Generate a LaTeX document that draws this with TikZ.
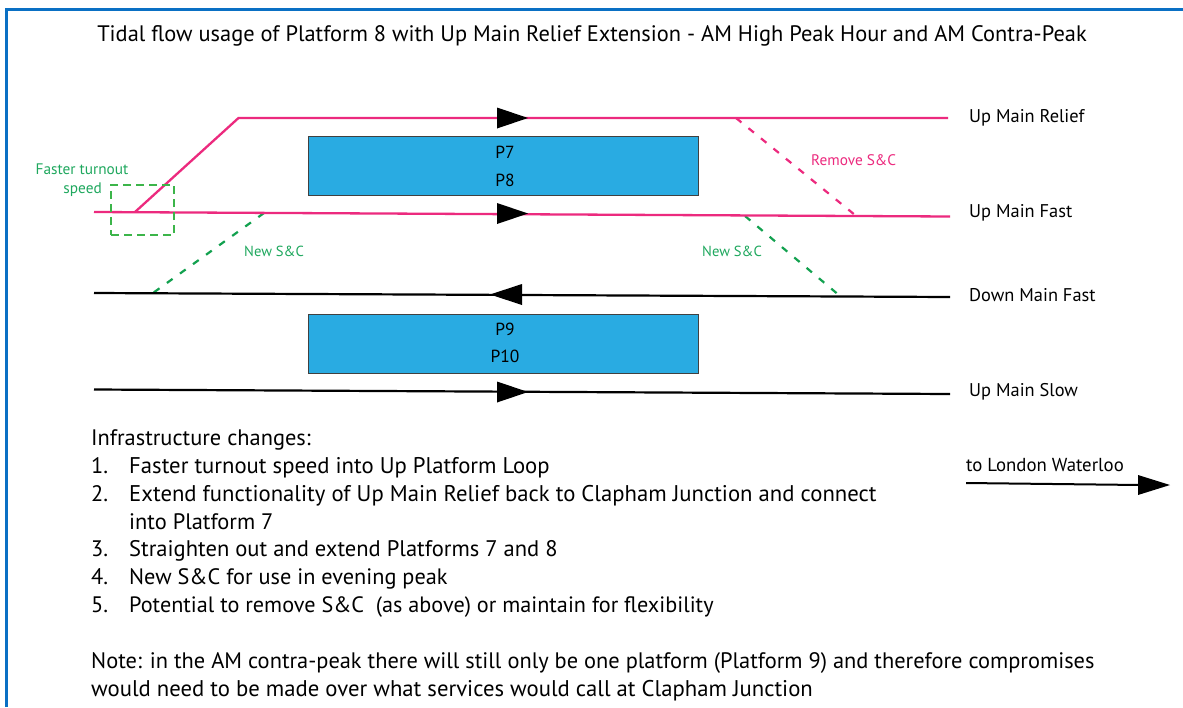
\documentclass[tikz,border=0pt]{standalone}
\usepackage{fontspec}
\setmainfont{PT Sans}
\definecolor{frame}{HTML}{0A70C4}
\definecolor{pinkl}{HTML}{EC2A7E}
\definecolor{greenl}{HTML}{12A14F}
\definecolor{greenb}{HTML}{3CB54A}
\definecolor{gtext}{HTML}{1FA85E}
\definecolor{boxb}{HTML}{29ABE2}
\newcommand{\fs}[1]{\fontsize{#1}{26}\selectfont}
\tikzset{
  txt/.style={anchor=base west,inner sep=0pt,font=\fs{22.4},text=black},
  lab/.style={anchor=base west,inner sep=0pt,font=\fontsize{18.4}{22}\selectfont,text=black},
  small/.style={inner sep=0pt,font=\fontsize{15.3}{18}\selectfont},
  plat/.style={draw=black!75,line width=1pt,fill=boxb,minimum width=390pt,minimum height=59pt,inner sep=0pt},
  pt/.style={inner sep=0pt,font=\fontsize{17.5}{20}\selectfont,text=black},
  pinktrack/.style={draw=pinkl,line width=2.3pt},
  blacktrack/.style={draw=black,line width=2.2pt},
  greendash/.style={draw=greenl,line width=2.2pt,dash pattern=on 7pt off 9.1pt},
  pinkdash/.style={draw=pinkl,line width=2.2pt,dash pattern=on 7pt off 9.1pt},
  head/.style={fill=black,draw=none}
}
\begin{document}
\begin{tikzpicture}[x=1pt,y=-1pt]
\useasboundingbox (0,0) rectangle (1183,707);
\fill[white] (0,0) rectangle (1183,707);
\draw[frame,line width=3pt] (6.5,707) -- (6.5,9.5) -- (1183,9.5);
% title
\node[anchor=base,inner sep=0pt,font=\fs{22.4},text=black] (title) at (592,41) {Tidal flow usage of Platform 8 with Up Main Relief Extension - AM High Peak Hour and AM Contra-Peak};
% platforms
\node[plat] (pa) at (503.5,165.5) {};
\node[plat] (pb) at (503.5,343.5) {};
\node[pt] (p7) at (505,152) {P7};
\node[pt] (p8) at (505,180) {P8};
\node[pt] (p9) at (505,329) {P9};
\node[pt] (p10) at (505,356) {P10};
% track coordinates
\coordinate (jn) at (135,212);
\coordinate (bend) at (238.5,118);
\coordinate (rE) at (948,118);
\coordinate (fW) at (94,212);
\coordinate (fE) at (950,216.5);
\coordinate (dW) at (94,293);
\coordinate (dE) at (950,297);
\coordinate (sW) at (94,389.5);
\coordinate (sE) at (950,394);
\coordinate (g1a) at (264,213);
\coordinate (g1b) at (153,293);
\coordinate (g2a) at (745,216);
\coordinate (g2b) at (840,296);
\coordinate (r1a) at (736,118);
\coordinate (r1b) at (855,215);
% dashed crossovers
\draw[greendash] (g1a) -- (g1b);
\draw[greendash] (g2a) -- (g2b);
\draw[pinkdash] (r1a) -- (r1b);
% tracks
\draw[pinktrack,line join=miter] (jn) -- (bend) -- (rE);
\draw[pinktrack] (fW) -- (fE);
\draw[blacktrack] (dW) -- (dE);
\draw[blacktrack] (sW) -- (sE);
% arrowheads
\fill[head] (497,107.5) -- (528,118) -- (497,128.5) -- cycle;
\fill[head] (497,203) -- (528,213.5) -- (497,224) -- cycle;
\fill[head] (522,284) -- (490,294.5) -- (522,305) -- cycle;
\fill[head] (497,381.5) -- (528,392) -- (497,402.5) -- cycle;
% green box
\node[draw=greenb,line width=2.2pt,dash pattern=on 8pt off 5pt,minimum width=63pt,minimum height=50pt,inner sep=0pt,outer sep=0pt] (gbox) at (142.5,210) {};
% small labels
\node[small,text=gtext,anchor=base,align=center] (ft1) at (82,174) {Faster turnout};
\node[small,text=gtext,anchor=base east] (ft2) at (102,193) {speed};
\node[small,font=\fontsize{14.6}{18}\selectfont,text=gtext,anchor=base west] (ns1) at (244,256) {New S\&C};
\node[small,font=\fontsize{14.6}{18}\selectfont,text=gtext,anchor=base west] (ns2) at (702,256) {New S\&C};
\node[small,font=\fontsize{15.3}{18}\selectfont,text=pinkl,anchor=base west] (rm) at (811,165) {Remove S\&C};
% track labels
\node[lab] (l1) at (969,122) {Up Main Relief};
\node[lab] (l2) at (969,217) {Up Main Fast};
\node[lab] (l3) at (969,301) {Down Main Fast};
\node[lab] (l4) at (969,396) {Up Main Slow};
% direction
\node[lab,font=\fontsize{18.8}{22}\selectfont] (lw) at (966,471) {to London Waterloo};
\coordinate (aW) at (966,483);
\coordinate (aE) at (1140,485);
\draw[blacktrack,line width=2pt] (aW) -- (aE);
\fill[head] (1138,475) -- (1170,485) -- (1138,495) -- cycle;
% notes
\node[txt] (t0) at (91,445) {Infrastructure changes:};
\node[txt] (n1) at (91,473) {1.};
\node[txt,font=\fs{22.7}] (t1) at (129,473) {Faster turnout speed into Up Platform Loop};
\node[txt] (n2) at (91,501) {2.};
\node[txt,font=\fs{22.7}] (t2) at (129,501) {Extend functionality of Up Main Relief back to Clapham Junction and connect};
\node[txt] (t2b) at (129,529) {into Platform 7};
\node[txt] (n3) at (91,556) {3.};
\node[txt,font=\fs{22.55}] (t3) at (129,556) {Straighten out and extend Platforms 7 and 8};
\node[txt] (n4) at (91,584) {4.};
\node[txt,font=\fs{22.3}] (t4) at (129,584) {New S\&C for use in evening peak};
\node[txt] (n5) at (91,612) {5.};
\node[txt,font=\fs{22.2}] (t5) at (129,612) {Potential to remove S\&C\ \ (as above) or maintain for flexibility};
\node[txt] (t6) at (91,668) {Note: in the AM contra-peak there will still only be one platform (Platform 9) and therefore compromises};
\node[txt,font=\fs{22.7}] (t7) at (91,696) {would need to be made over what services would call at Clapham Junction};
\end{tikzpicture}
\end{document}
